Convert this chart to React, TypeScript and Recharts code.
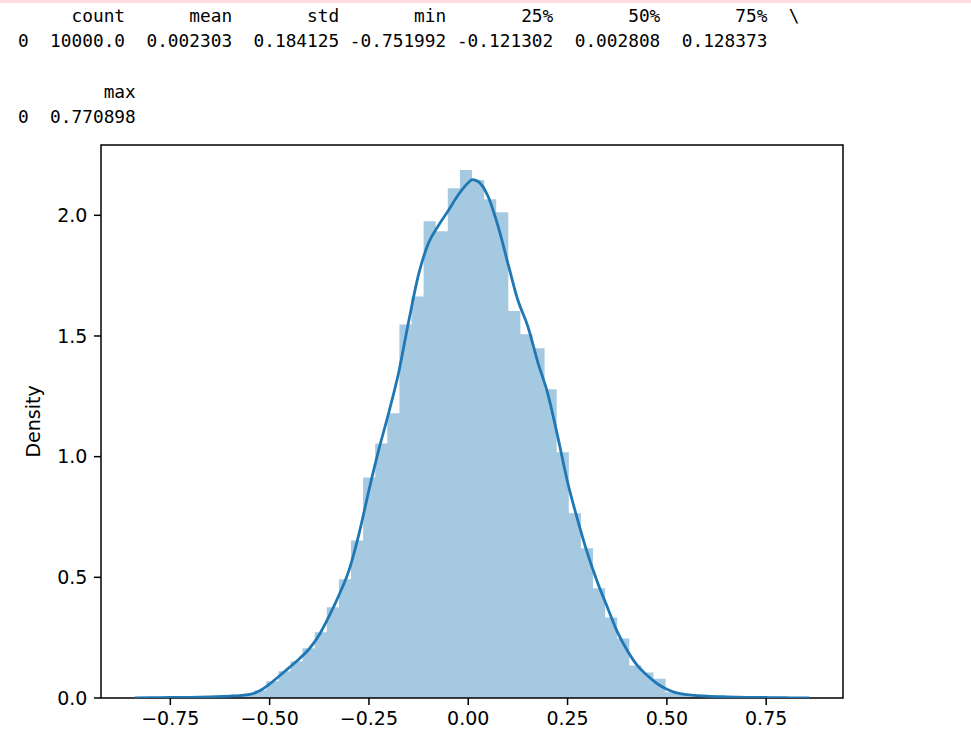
import React from 'react';
import { ComposedChart, Area, Line, XAxis, YAxis, ReferenceArea } from 'recharts';

// pandas describe() table printed above the plot
const statLabels = ['count', 'mean', 'std', 'min', '25%', '50%', '75%'];
const statValues = ['10000.0', '0.002303', '0.184125', '-0.751992', '-0.121302', '0.002808', '0.128373'];
const tailLabels = ['max'];
const tailValues = ['0.770898'];

// histogram: 50 bins between the sample min and max (density values)
const binStart = -0.751992;
const binEnd = 0.770898;
const histDensity = [
  0.0033, 0, 0.0033, 0.0066, 0.0098, 0.013, 0.016, 0.032, 0.069, 0.111,
  0.152, 0.206, 0.272, 0.376, 0.492, 0.653, 0.914, 1.055, 1.18, 1.548,
  1.664, 1.975, 1.934, 2.112, 2.188, 2.146, 2.067, 2.013, 1.603, 1.507,
  1.449, 1.279, 1.018, 0.765, 0.62, 0.455, 0.334, 0.247, 0.135, 0.106,
  0.08, 0.024, 0.013, 0.0066, 0.0033, 0.0033, 0, 0.0033, 0, 0.0033,
];

// kde curve
const kdeX = [
  -0.8396, -0.8, -0.75, -0.7, -0.65, -0.6, -0.575, -0.55, -0.525, -0.5,
  -0.475, -0.45, -0.425, -0.4, -0.375, -0.35, -0.325, -0.3, -0.275, -0.25,
  -0.225, -0.2, -0.175, -0.15, -0.125, -0.1, -0.075, -0.05, -0.025, 0,
  0.01, 0.025, 0.05, 0.075, 0.1, 0.125, 0.15, 0.175, 0.2, 0.225,
  0.25, 0.275, 0.3, 0.325, 0.35, 0.375, 0.4, 0.425, 0.45, 0.475,
  0.5, 0.525, 0.55, 0.6, 0.65, 0.7, 0.75, 0.8, 0.8585,
];
const kdeY = [
  0.0003, 0.001, 0.002, 0.003, 0.005, 0.008, 0.01, 0.015, 0.03, 0.058,
  0.092, 0.127, 0.163, 0.204, 0.262, 0.34, 0.428, 0.53, 0.68, 0.861,
  1.03, 1.183, 1.35, 1.56, 1.755, 1.885, 1.958, 2.02, 2.085, 2.135,
  2.148, 2.14, 2.078, 1.955, 1.8, 1.648, 1.54, 1.392, 1.262, 1.085,
  0.895, 0.74, 0.6, 0.481, 0.377, 0.275, 0.198, 0.136, 0.094, 0.06,
  0.036, 0.021, 0.014, 0.008, 0.005, 0.003, 0.002, 0.001, 0.0003,
];

const xTicks = [-0.75, -0.5, -0.25, 0, 0.25, 0.5, 0.75];
const yTicks = [0, 0.5, 1, 1.5, 2];
const xDomain = [-0.9245, 0.9434];
const yDomain = [0, 2.2913];

const BLUE = '#1f77b4';

// build pandas-like text rows
function tableRows(labels: string[], values: string[], last: boolean) {
  let head = ' ';
  let row = '0';
  labels.forEach((label, i) => {
    const v = values[i];
    const cell = v.startsWith('-') ? v : ' ' + v;
    const w = Math.max(cell.length, label.length);
    head += ' ' + label.padStart(w);
    row += ' ' + cell.padStart(w);
  });
  if (!last) head += '  \\';
  return [head, row];
}

const textLines = [
  ...tableRows(statLabels, statValues, false),
  '',
  ...tableRows(tailLabels, tailValues, true),
];

const binWidth = (binEnd - binStart) / histDensity.length;
const histRows = histDensity
  .map((d, i) => ({ x: binStart + i * binWidth, hist: d }))
  .concat([{ x: binEnd, hist: histDensity[histDensity.length - 1] }]);
const kdeRows = kdeX.map((x, i) => ({ x, kde: kdeY[i] }));
const chartData: { x: number; hist?: number; kde?: number }[] = [...histRows, ...kdeRows].sort(
  (a, b) => a.x - b.x
);

const fmtX = (v: number) => (v < 0 ? '\u2212' : '') + Math.abs(v).toFixed(2);
const fmtY = (v: number) => v.toFixed(1);

const tickStyle = { fill: '#000', fontSize: 19, fontFamily: 'DejaVu Sans' };

export default function App() {
  return (
    <div style={{ position: 'absolute', left: 0, top: 0, width: 971, height: 746, background: '#fff' }}>
      <div style={{ position: 'absolute', left: 0, top: 0, width: 971, height: 3, background: '#fdd' }} />
      <pre
        style={{
          position: 'absolute',
          left: 18,
          top: 3,
          margin: 0,
          fontFamily: 'DejaVu Sans Mono',
          fontSize: 17.8,
          lineHeight: '25.25px',
          color: '#000',
        }}
      >
        {textLines.join('\n')}
      </pre>
      <div style={{ position: 'absolute', left: 0, top: 130 }}>
        <ComposedChart
          width={971}
          height={616}
          data={chartData}
          margin={{ top: 15, right: 128, bottom: 0, left: 0 }}
        >
          <XAxis
            dataKey="x"
            type="number"
            domain={xDomain}
            allowDataOverflow
            ticks={xTicks}
            tickFormatter={fmtX}
            height={48}
            axisLine={false}
            tickLine={{ stroke: '#000', strokeWidth: 1.5 }}
            tickSize={7}
            tickMargin={6.6}
            tick={tickStyle}
          />
          <YAxis
            type="number"
            domain={yDomain}
            allowDataOverflow
            ticks={yTicks}
            tickFormatter={fmtY}
            width={101}
            axisLine={false}
            tickLine={{ stroke: '#000', strokeWidth: 1.5 }}
            tickSize={7}
            tickMargin={6.6}
            tick={tickStyle}
            label={{
              value: 'Density',
              angle: -90,
              position: 'insideLeft',
              offset: 33,
              style: { textAnchor: 'middle', fill: '#000', fontSize: 19, fontFamily: 'DejaVu Sans' },
            }}
          />
          <Area
            dataKey="hist"
            type="stepAfter"
            fill={BLUE}
            fillOpacity={0.4}
            stroke="none"
            connectNulls
            dot={false}
            activeDot={false}
            isAnimationActive={false}
          />
          <Line
            dataKey="kde"
            type="monotone"
            stroke={BLUE}
            strokeWidth={2.8}
            dot={false}
            activeDot={false}
            connectNulls
            isAnimationActive={false}
          />
          <ReferenceArea
            x1={xDomain[0]}
            x2={xDomain[1]}
            y1={yDomain[0]}
            y2={yDomain[1]}
            fill="none"
            stroke="#000"
            strokeWidth={1.5}
            fillOpacity={0}
          />
        </ComposedChart>
      </div>
    </div>
  );
}
